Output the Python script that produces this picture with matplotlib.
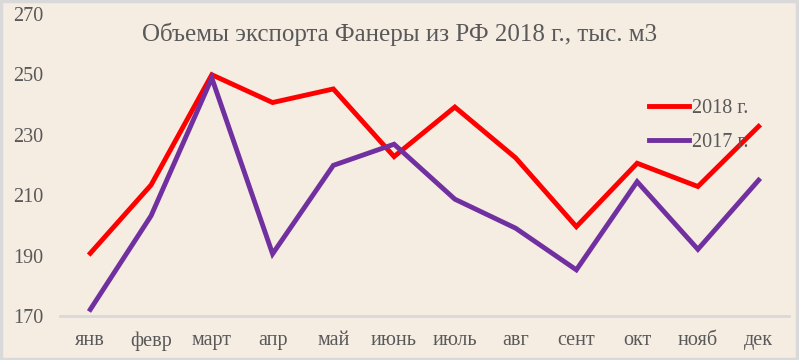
import matplotlib.pyplot as plt
from matplotlib.patches import Rectangle

# Data ─────────────────────────────────────────────
months = ["янв", "февр", "март", "апр", "май", "июнь", "июль", "авг",
          "сент", "окт", "нояб", "дек"]
y2018 = [190.8, 213.4, 249.9, 240.7, 245.2, 222.8, 239.2, 222.4,
         199.6, 220.6, 212.9, 232.8]
y2017 = [172.2, 203.2, 248.8, 190.6, 219.9, 226.9, 208.7, 199.1,
         185.3, 214.5, 192.1, 215.0]
yticks = [170, 190, 210, 230, 250, 270]

BG = "#f5ece2"
TEXT = "#595959"
AXIS = "#d9d9d9"

plt.rcParams["font.family"] = ["Liberation Serif", "DejaVu Serif"]

fig = plt.figure(figsize=(7.99, 3.6), dpi=100)
fig.patch.set_facecolor(BG)
fig.patches.append(Rectangle((0.001, 0.002), 0.997, 0.995, transform=fig.transFigure,
                             fill=False, edgecolor=AXIS, linewidth=2.5))

ax = fig.add_axes([0.075, 0.122, 0.9125, 0.839])
ax.set_facecolor(BG)

x = range(len(months))
ax.plot(x, y2018, color="#ff0000", lw=3.5, label="2018 г.", solid_joinstyle="miter")
ax.plot(x, y2017, color="#7030a0", lw=3.5, label="2017 г.", solid_joinstyle="miter")

ax.set_xlim(-0.5, len(months) - 0.5)
ax.set_ylim(170, 270)
ax.set_yticks(yticks)
ax.set_xticks(list(x))
ax.set_xticklabels(months)
ax.tick_params(axis="both", length=0, colors=TEXT, labelsize=14.5)
ax.tick_params(axis="x", pad=11)
ax.tick_params(axis="y", pad=12)

for side in ["top", "right", "left"]:
    ax.spines[side].set_visible(False)
ax.spines["bottom"].set_color(AXIS)
ax.spines["bottom"].set_linewidth(2)

fig.text(0.5, 0.905, "Объемы экспорта Фанеры из РФ 2018 г., тыс. м3",
         ha="center", va="center", fontsize=18, color=TEXT)

leg = ax.legend(loc="upper left", bbox_to_anchor=(0.783, 0.78), frameon=False,
                fontsize=14.5, handlelength=2.0, handletextpad=0.15, labelspacing=0.75)
for t in leg.get_texts():
    t.set_color(TEXT)

fig.savefig("out.png", dpi=100, facecolor=BG)
